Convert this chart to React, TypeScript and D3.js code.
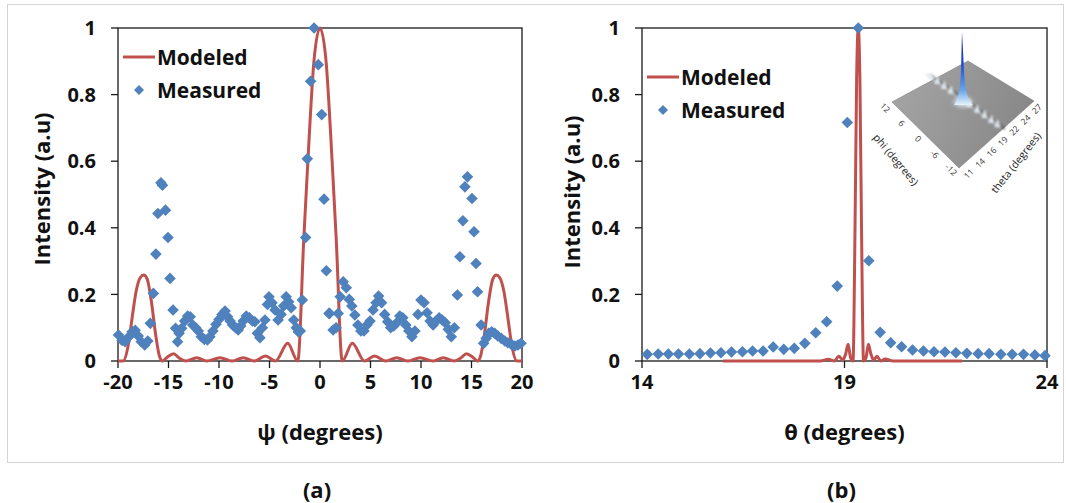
import React from "react";
import * as d3 from "d3";

// ---------- shared ticks ----------
const yTicks = [0, 0.2, 0.4, 0.6, 0.8, 1];
const yTickLabels = ["0", "0.2", "0.4", "0.6", "0.8", "1"];
const psiTicks = [-20, -15, -10, -5, 0, 5, 10, 15, 20];
const thetaTicks = [14, 19, 24];

// ---------- panel (a): measured ----------
const psiMeasured = [
  -19.95, -19.6, -19.3, -18.95, -18.6, -18.3, -18.0, -17.7, -17.35, -17.05,
  -16.8, -16.5, -16.25, -16.05, -15.75, -15.6, -15.3, -15.05, -14.85, -14.55,
  -14.3, -14.1, -13.95, -13.7, -13.4, -13.1, -12.85, -12.6, -12.3, -12.05,
  -11.75, -11.45, -11.15, -10.9, -10.6, -10.3, -10.0, -9.7, -9.4, -9.15,
  -8.9, -8.65, -8.35, -8.1, -7.85, -7.6, -7.3, -7.0, -6.7, -6.45,
  -6.2, -5.95, -5.7, -5.45, -5.2, -5.05, -4.75, -4.45, -4.15, -3.85,
  -3.6, -3.35, -3.1, -2.85, -2.6, -2.35, -2.15, -1.95, -1.75, -1.42,
  -1.26, -0.93, -0.59, -0.17, 0.17, 0.4, 0.63, 0.89, 0.95, 1.3,
  1.6, 1.8, 2.0, 2.3, 2.6, 2.9, 3.15, 3.45, 3.75, 4.05,
  4.35, 4.65, 4.95, 5.25, 5.55, 5.8, 6.1, 6.4, 6.7, 7.0,
  7.3, 7.6, 7.9, 8.2, 8.5, 8.8, 9.1, 9.4, 9.7, 10.0,
  10.3, 10.6, 10.9, 11.2, 11.5, 11.8, 12.1, 12.4, 12.7, 13.0,
  13.3, 13.6, 13.85, 14.15, 14.35, 14.6, 15.05, 15.25, 15.45, 15.6,
  15.95, 16.2, 16.45, 16.7, 17.0, 17.3, 17.6, 17.95, 18.3, 18.6,
  18.95, 19.3, 19.6, 19.9,
];
const intensityMeasuredA = [
  0.078, 0.062, 0.058, 0.072, 0.088, 0.092, 0.075, 0.058, 0.048, 0.06,
  0.113, 0.203, 0.321, 0.443, 0.535, 0.528, 0.453, 0.371, 0.248, 0.153,
  0.098, 0.058, 0.083, 0.098, 0.12, 0.135, 0.133, 0.108, 0.1, 0.09,
  0.073, 0.065, 0.063, 0.073, 0.09, 0.11, 0.125, 0.14, 0.15, 0.133,
  0.12, 0.108, 0.1, 0.093, 0.105, 0.12, 0.135, 0.13, 0.12, 0.118,
  0.083, 0.07, 0.1, 0.123, 0.17, 0.193, 0.175, 0.153, 0.123, 0.14,
  0.165, 0.193, 0.178, 0.16, 0.123, 0.1, 0.088, 0.09, 0.183, 0.371,
  0.607, 0.84, 1.0, 0.89, 0.74, 0.486, 0.271, 0.143, 0.143, 0.093,
  0.1, 0.143, 0.193, 0.238, 0.22, 0.185, 0.165, 0.138, 0.108, 0.09,
  0.09, 0.108, 0.12, 0.153, 0.175, 0.195, 0.175, 0.14, 0.118, 0.1,
  0.105, 0.115, 0.135, 0.13, 0.108, 0.09, 0.073, 0.09, 0.14, 0.183,
  0.175, 0.145, 0.12, 0.108, 0.12, 0.13, 0.123, 0.115, 0.095, 0.073,
  0.1, 0.198, 0.313, 0.421, 0.523, 0.553, 0.488, 0.388, 0.293, 0.208,
  0.108, 0.053, 0.068, 0.083, 0.088, 0.083, 0.075, 0.068, 0.06, 0.055,
  0.05, 0.045, 0.048, 0.053,
];

// ---------- panel (a): modeled ----------
const psiModel = [
  -20, -19.5, -19.0, -18.6, -18.2, -17.8, -17.45, -17.1, -16.7, -16.3, -15.9, -15.6,
  -15.1, -14.5, -13.9, -13.3, -12.2, -11.2, -9.9, -8.7, -7.6, -6.5, -5.4, -4.4,
  -3.2, -2.2, -1.6, -1.2, -0.6, 0,
  0.6, 1.2, 1.6, 2.2, 3.2, 4.4, 5.4, 6.5, 7.6, 8.7, 9.9, 11.2, 12.2, 13.3,
  13.9, 14.5, 15.1, 15.6, 15.9, 16.3, 16.7, 17.1, 17.45, 17.8, 18.2, 18.6, 19.0, 19.5, 20,
];
const intensityModelA = [
  0, 0, 0.045, 0.13, 0.21, 0.25, 0.258, 0.245, 0.18, 0.085, 0.015, 0,
  0.012, 0.022, 0.008, 0, 0.01, 0, 0.01, 0, 0.01, 0, 0.015, 0,
  0.053, 0, 0.37, 0.6, 0.9, 1,
  0.9, 0.6, 0.37, 0, 0.053, 0, 0.015, 0, 0.01, 0, 0.01, 0, 0.01, 0,
  0.008, 0.022, 0.012, 0, 0.015, 0.085, 0.18, 0.245, 0.258, 0.25, 0.21, 0.13, 0.045, 0, 0,
];

// ---------- panel (b): measured ----------
const thetaMeasured = [
  14.13, 14.4, 14.65, 14.9, 15.17, 15.43, 15.69, 15.95, 16.21, 16.48,
  16.73, 16.99, 17.24, 17.5, 17.76, 18.02, 18.29, 18.56, 18.82, 19.07,
  19.34, 19.6, 19.88, 20.14, 20.41, 20.68, 20.95, 21.21, 21.48, 21.75,
  22.02, 22.3, 22.57, 22.86, 23.14, 23.42, 23.7, 23.95,
];
const intensityMeasuredB = [
  0.02, 0.021, 0.021, 0.021, 0.021, 0.022, 0.024, 0.025, 0.027, 0.028,
  0.03, 0.03, 0.042, 0.035, 0.038, 0.053, 0.085, 0.118, 0.225, 0.716,
  1.0, 0.301, 0.086, 0.055, 0.043, 0.033, 0.03, 0.028, 0.027, 0.025,
  0.023, 0.022, 0.022, 0.02, 0.02, 0.02, 0.018, 0.016,
];

// ---------- panel (b): modeled ----------
const thetaModel = [
  16.0, 18.4, 18.6, 18.75, 18.86, 18.96, 19.03, 19.09, 19.15, 19.21,
  19.26, 19.3, 19.34, 19.38, 19.42, 19.47, 19.53, 19.59, 19.65, 19.72,
  19.8, 19.9, 20.0, 20.2, 21.9,
];
const intensityModelB = [
  0, 0, 0.005, 0, 0.014, 0.003, 0.022, 0.05, 0.01, 0,
  0.4, 0.85, 1, 0.85, 0.4, 0, 0.01, 0.05, 0.022, 0.003,
  0.014, 0, 0.006, 0, 0,
];

// ---------- inset labels ----------
const phiLabels = ["12", "6", "0", "-6", "-12"];
const thetaInsetLabels = ["11", "14", "16", "19", "22", "24", "27"];

const RED = "#c0504d";
const BLUE = "#4f81bd";
const FONT = "'Open Sans', 'DejaVu Sans', sans-serif";

function diamond(cx: number, cy: number, r: number) {
  return `M${cx},${cy - r}L${cx + r},${cy}L${cx},${cy + r}L${cx - r},${cy}Z`;
}

type PanelProps = {
  x0: number;
  x1: number;
  xDomain: [number, number];
  xTicks: number[];
  xs: number[];
  ys: number[];
  mx: number[];
  my: number[];
  xTitle: string;
  label: string;
  legendY: number;
  yTitleX: number;
  yTitleY: number;
};

const Y0 = 28;
const Y1 = 361;

function Panel(p: PanelProps) {
  const x = d3.scaleLinear().domain(p.xDomain).range([p.x0, p.x1]);
  const y = d3.scaleLinear().domain([0, 1]).range([Y1, Y0]);
  const line = d3
    .line<[number, number]>()
    .x((d) => x(d[0]))
    .y((d) => y(d[1]))
    .curve(d3.curveMonotoneX);
  const modelPts: [number, number][] = p.mx.map((v, i) => [v, p.my[i]]);
  const cx = (p.x0 + p.x1) / 2;
  const legX = p.x0 + 5;
  return (
    <g>
      <rect
        x={p.x0}
        y={Y0}
        width={p.x1 - p.x0}
        height={Y1 - Y0}
        fill="none"
        stroke="#1a1a1a"
        strokeWidth={1.3}
      />
      {yTicks.map((t, i) => (
        <g key={"y" + i}>
          <line x1={p.x0 - 7} x2={p.x0} y1={y(t)} y2={y(t)} stroke="#1a1a1a" strokeWidth={1.3} />
          <text
            x={p.x0 - 22}
            y={y(t)}
            dy="0.36em"
            textAnchor="end"
            fontFamily={FONT}
            fontWeight={700}
            fontSize={20}
            fill="#111"
          >
            {yTickLabels[i]}
          </text>
        </g>
      ))}
      {p.xTicks.map((t, i) => (
        <g key={"x" + i}>
          <line x1={x(t)} x2={x(t)} y1={Y1} y2={Y1 + 7} stroke="#1a1a1a" strokeWidth={1.3} />
          <text
            x={x(t)}
            y={389}
            textAnchor="middle"
            fontFamily={FONT}
            fontWeight={700}
            fontSize={20}
            fill="#111"
          >
            {t}
          </text>
        </g>
      ))}
      <path d={line(modelPts) || ""} fill="none" stroke={RED} strokeWidth={3} strokeLinejoin="round" />
      {p.xs.map((v, i) => (
        <path key={"m" + i} d={diamond(x(v), y(p.ys[i]), 5.8)} fill={BLUE} />
      ))}
      <line x1={legX} x2={legX + 32} y1={p.legendY} y2={p.legendY} stroke={RED} strokeWidth={3} />
      <text
        x={legX + 34}
        y={p.legendY}
        dy="0.36em"
        fontFamily={FONT}
        fontWeight={700}
        fontSize={21}
        fill="#111"
      >
        Modeled
      </text>
      <path d={diamond(legX + 16, p.legendY + 33, 5)} fill={BLUE} />
      <text
        x={legX + 34}
        y={p.legendY + 33}
        dy="0.36em"
        fontFamily={FONT}
        fontWeight={700}
        fontSize={21}
        fill="#111"
      >
        Measured
      </text>
      <text
        x={cx}
        y={440}
        textAnchor="middle"
        fontFamily={FONT}
        fontWeight={700}
        fontSize={22}
        fill="#111"
      >
        {p.xTitle}
      </text>
      <text
        transform={`translate(${p.yTitleX},${p.yTitleY}) rotate(-90)`}
        textAnchor="middle"
        dy="0.36em"
        fontFamily={FONT}
        fontWeight={700}
        fontSize={22}
        fill="#111"
      >
        Intensity (a.u)
      </text>
      <text
        x={cx - 3}
        y={498}
        textAnchor="middle"
        fontFamily={FONT}
        fontWeight={700}
        fontSize={22}
        fill="#111"
      >
        {p.label}
      </text>
    </g>
  );
}

function Inset() {
  const L: [number, number] = [892, 102];
  const T: [number, number] = [968, 61];
  const R: [number, number] = [1034, 101];
  const B: [number, number] = [959, 168];
  const lerp = (a: [number, number], b: [number, number], t: number): [number, number] => [
    a[0] + (b[0] - a[0]) * t,
    a[1] + (b[1] - a[1]) * t,
  ];
  const ridgeA: [number, number] = [926, 74];
  const ridgeB: [number, number] = [1001, 128];
  const bumps = [0.06, 0.15, 0.24, 0.33, 0.58, 0.68, 0.78, 0.87, 0.95];
  const phiPos = phiLabels.map((_, i) => lerp([883, 110], [949, 172], i / (phiLabels.length - 1)));
  const thPos = thetaInsetLabels.map((_, i) =>
    lerp([971, 176], [1039, 111], i / (thetaInsetLabels.length - 1))
  );
  return (
    <g>
      <defs>
        <linearGradient id="plane" x1="0" y1="0" x2="1" y2="0.3">
          <stop offset="0" stopColor="#a6a6a6" />
          <stop offset="0.5" stopColor="#989898" />
          <stop offset="1" stopColor="#888888" />
        </linearGradient>
        <linearGradient id="spike" x1="0" y1="0" x2="0" y2="1">
          <stop offset="0" stopColor="#0c1a9c" />
          <stop offset="0.45" stopColor="#1f4fd0" />
          <stop offset="0.8" stopColor="#6aa6e8" />
          <stop offset="1" stopColor="#e6f2fb" />
        </linearGradient>
        <filter id="blur1" x="-50%" y="-50%" width="200%" height="200%">
          <feGaussianBlur stdDeviation="1.1" />
        </filter>
        <filter id="blur2" x="-50%" y="-50%" width="200%" height="200%">
          <feGaussianBlur stdDeviation="2" />
        </filter>
      </defs>
      <path
        d={`M${L[0]},${L[1]}L${T[0]},${T[1]}L${R[0]},${R[1]}L${B[0]},${B[1]}Z`}
        fill="url(#plane)"
        stroke="#808080"
        strokeWidth={0.6}
      />
      <line
        x1={ridgeA[0] + 4}
        y1={ridgeA[1] + 1}
        x2={ridgeB[0] + 4}
        y2={ridgeB[1] + 1}
        stroke="#4a4a4a"
        strokeWidth={3}
        opacity={0.55}
        filter="url(#blur1)"
      />
      <line
        x1={ridgeA[0]}
        y1={ridgeA[1]}
        x2={ridgeB[0]}
        y2={ridgeB[1]}
        stroke="#c8d4de"
        strokeWidth={2.5}
        opacity={0.5}
        filter="url(#blur1)"
      />
      {bumps.map((t, i) => {
        const [bx, by] = lerp(ridgeA, ridgeB, t);
        return (
          <path
            key={i}
            d={`M${bx - 3},${by + 2} Q${bx - 1},${by - 6} ${bx + 0.5},${by - 6} Q${bx + 2},${by - 4} ${bx + 3},${by + 2} Z`}
            fill="#eef4fa"
            opacity={0.8}
            filter="url(#blur1)"
          />
        );
      })}
      <ellipse cx={963} cy={102} rx={9} ry={5} fill="#e4f0fa" opacity={0.9} filter="url(#blur2)" />
      <path d="M954,105 Q960,98 961,70 L962,32 L964,70 Q965,98 973,105 Z" fill="url(#spike)" />
      {phiLabels.map((s, i) => (
        <text
          key={"p" + i}
          transform={`translate(${phiPos[i][0]},${phiPos[i][1]}) rotate(45)`}
          textAnchor="middle"
          fontFamily={FONT}
          fontSize={8.5}
          fill="#333"
        >
          {s}
        </text>
      ))}
      {thetaInsetLabels.map((s, i) => (
        <text
          key={"t" + i}
          transform={`translate(${thPos[i][0]},${thPos[i][1]}) rotate(-45)`}
          textAnchor="middle"
          fontFamily={FONT}
          fontSize={8.5}
          fill="#333"
        >
          {s}
        </text>
      ))}
      <text
        transform="translate(893,162) rotate(50)"
        textAnchor="middle"
        fontFamily={FONT}
        fontSize={10.5}
        fill="#222"
      >
        phi (degrees)
      </text>
      <text
        transform="translate(1019,165) rotate(-52)"
        textAnchor="middle"
        fontFamily={FONT}
        fontSize={10.5}
        fill="#222"
      >
        theta (degrees)
      </text>
    </g>
  );
}

export default function App() {
  return (
    <svg
      width={1066}
      height={503}
      viewBox="0 0 1066 503"
      style={{ position: "absolute", left: 0, top: 0, background: "#fff" }}
    >
      <rect x={0} y={0} width={1066} height={503} fill="#fff" />
      <rect x={7.5} y={4.5} width={1056} height={458} fill="none" stroke="#d4d4d4" strokeWidth={1} />
      <Panel
        x0={118}
        x1={522}
        xDomain={[-20, 20]}
        xTicks={psiTicks}
        xs={psiMeasured}
        ys={intensityMeasuredA}
        mx={psiModel}
        my={intensityModelA}
        xTitle="ψ (degrees)"
        label="(a)"
        legendY={57}
        yTitleX={42}
        yTitleY={189}
      />
      <Panel
        x0={642}
        x1={1047}
        xDomain={[14, 24]}
        xTicks={thetaTicks}
        xs={thetaMeasured}
        ys={intensityMeasuredB}
        mx={thetaModel}
        my={intensityModelB}
        xTitle="θ (degrees)"
        label="(b)"
        legendY={77}
        yTitleX={572}
        yTitleY={192}
      />
      <Inset />
    </svg>
  );
}
